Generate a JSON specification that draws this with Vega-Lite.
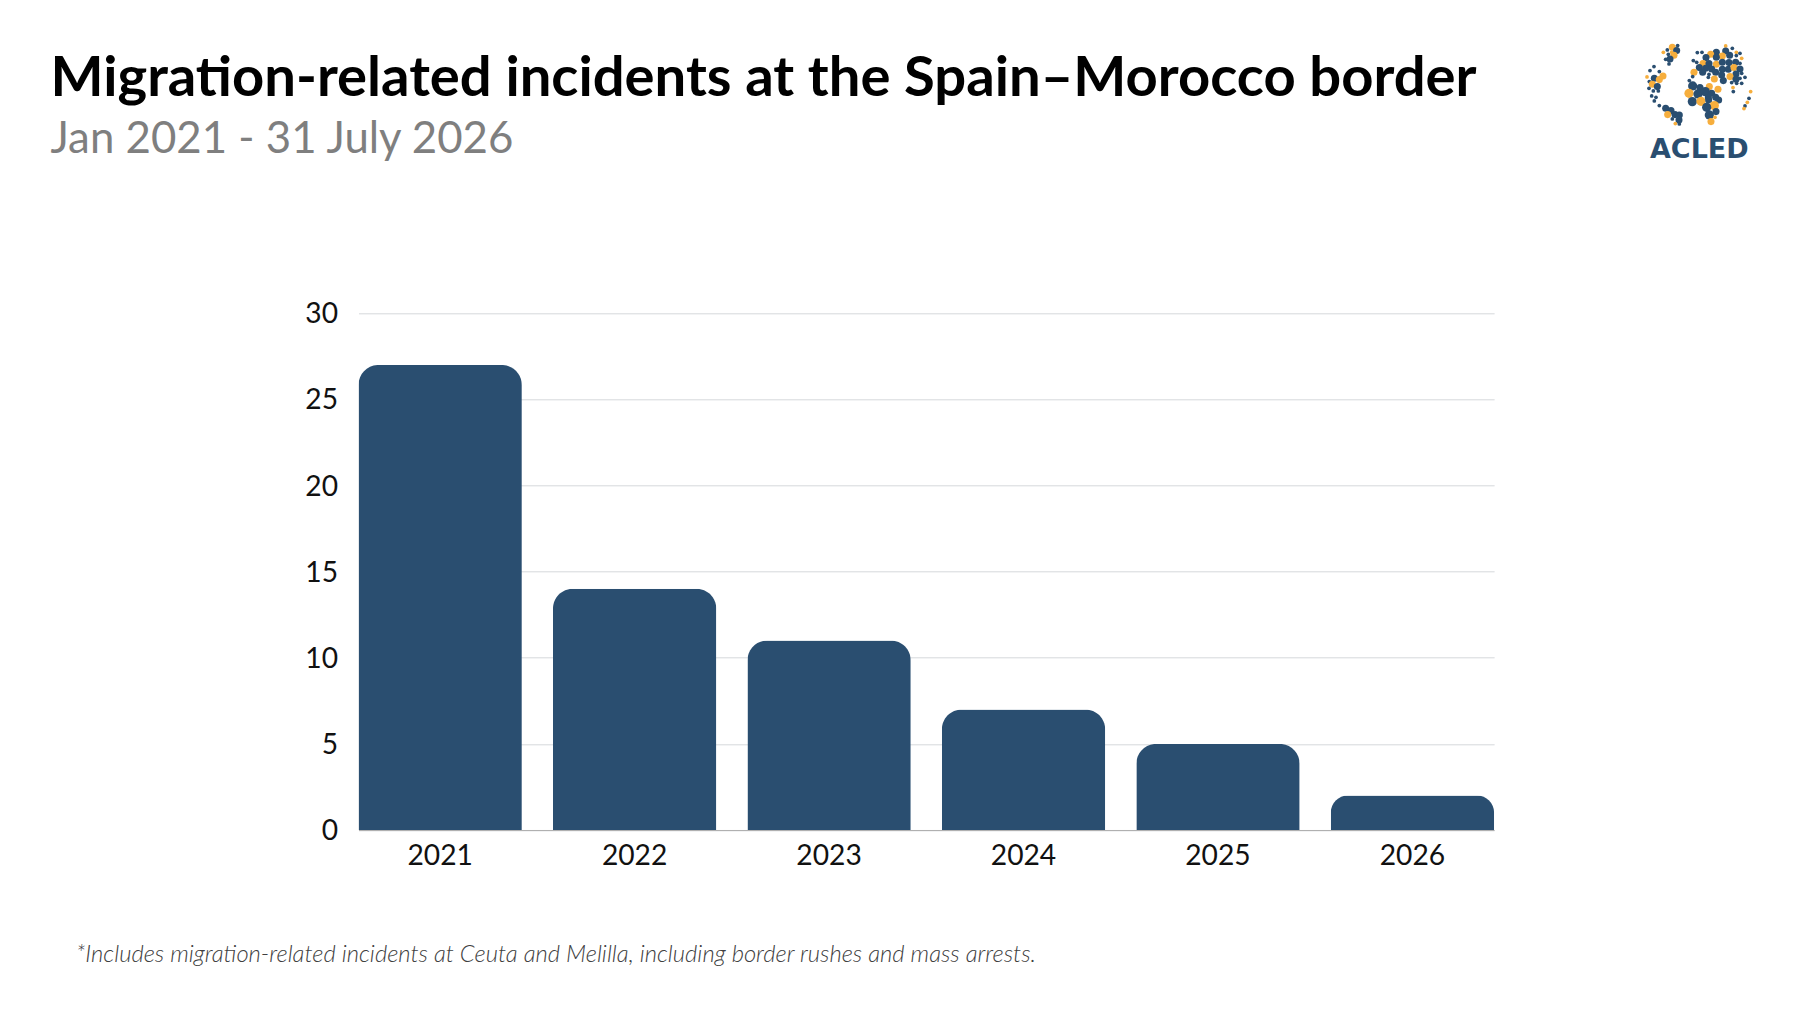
{"$schema":"https://vega.github.io/schema/vega-lite/v6.json","width":1135.6,"height":516.7,"autosize":{"type":"none"},"padding":{"left":358.5,"top":313.3,"right":306,"bottom":183},"background":"#ffffff","title":{"text":"Migration-related incidents at the Spain–Morocco border","subtitle":"Jan 2021 - 31 July 2026","anchor":"start","frame":"group","dx":-308,"offset":-119,"font":"Lato","fontSize":56.2,"fontWeight":"bold","color":"#000000","subtitleFont":"Lato","subtitleFontSize":43.8,"subtitleFontWeight":"normal","subtitleColor":"#7f7f7f","subtitlePadding":10},"datasets":{"bars":[{"year":"2021","incidents":27},{"year":"2022","incidents":14},{"year":"2023","incidents":11},{"year":"2024","incidents":7},{"year":"2025","incidents":5},{"year":"2026","incidents":2}],"logo":[{"gx":217,"gy":82,"group":"orange","w":2},{"gx":233,"gy":77,"group":"navy","w":1},{"gx":202,"gy":90,"group":"navy","w":1},{"gx":190,"gy":97,"group":"orange","w":1},{"gx":215,"gy":97,"group":"orange","w":1},{"gx":230,"gy":92,"group":"navy","w":2},{"gx":205,"gy":103,"group":"navy","w":1},{"gx":222,"gy":106,"group":"orange","w":2},{"gx":210,"gy":117,"group":"navy","w":2},{"gx":197,"gy":118,"group":"navy","w":1},{"gx":207,"gy":132,"group":"navy","w":1},{"gx":162,"gy":140,"group":"navy","w":1},{"gx":150,"gy":152,"group":"navy","w":1},{"gx":178,"gy":155,"group":"navy","w":1},{"gx":189,"gy":168,"group":"orange","w":2},{"gx":163,"gy":175,"group":"navy","w":2},{"gx":141,"gy":171,"group":"orange","w":1},{"gx":178,"gy":179,"group":"orange","w":2},{"gx":148,"gy":185,"group":"navy","w":1},{"gx":157,"gy":193,"group":"orange","w":2},{"gx":172,"gy":200,"group":"navy","w":2},{"gx":147,"gy":205,"group":"navy","w":1},{"gx":160,"gy":213,"group":"navy","w":1},{"gx":175,"gy":213,"group":"navy","w":1},{"gx":155,"gy":228,"group":"navy","w":1},{"gx":168,"gy":232,"group":"navy","w":1},{"gx":163,"gy":243,"group":"navy","w":1},{"gx":178,"gy":257,"group":"navy","w":1},{"gx":197,"gy":265,"group":"navy","w":2},{"gx":213,"gy":272,"group":"navy","w":2},{"gx":203,"gy":284,"group":"orange","w":2},{"gx":225,"gy":284,"group":"navy","w":2},{"gx":238,"gy":285,"group":"navy","w":2},{"gx":217,"gy":297,"group":"navy","w":1},{"gx":237,"gy":300,"group":"navy","w":2},{"gx":226,"gy":311,"group":"orange","w":1},{"gx":238,"gy":312,"group":"navy","w":1},{"gx":377,"gy":78,"group":"orange","w":1},{"gx":349,"gy":97,"group":"navy","w":2},{"gx":332,"gy":103,"group":"orange","w":2},{"gx":306,"gy":97,"group":"navy","w":1},{"gx":292,"gy":98,"group":"navy","w":1},{"gx":280,"gy":122,"group":"navy","w":1},{"gx":377,"gy":93,"group":"navy","w":2},{"gx":397,"gy":85,"group":"navy","w":1},{"gx":409,"gy":97,"group":"orange","w":1},{"gx":420,"gy":100,"group":"navy","w":1},{"gx":367,"gy":108,"group":"orange","w":2},{"gx":389,"gy":106,"group":"navy","w":2},{"gx":409,"gy":107,"group":"navy","w":1},{"gx":318,"gy":113,"group":"navy","w":2},{"gx":349,"gy":112,"group":"navy","w":2},{"gx":290,"gy":127,"group":"navy","w":1},{"gx":309,"gy":131,"group":"orange","w":2},{"gx":327,"gy":131,"group":"navy","w":2},{"gx":349,"gy":133,"group":"orange","w":2},{"gx":367,"gy":127,"group":"navy","w":2},{"gx":387,"gy":128,"group":"navy","w":2},{"gx":407,"gy":127,"group":"navy","w":2},{"gx":425,"gy":115,"group":"orange","w":1},{"gx":420,"gy":130,"group":"navy","w":1},{"gx":298,"gy":143,"group":"navy","w":2},{"gx":317,"gy":145,"group":"navy","w":2},{"gx":335,"gy":147,"group":"navy","w":2},{"gx":367,"gy":148,"group":"navy","w":2},{"gx":385,"gy":148,"group":"navy","w":2},{"gx":402,"gy":143,"group":"orange","w":2},{"gx":420,"gy":147,"group":"navy","w":2},{"gx":282,"gy":157,"group":"orange","w":2},{"gx":308,"gy":157,"group":"navy","w":2},{"gx":327,"gy":163,"group":"navy","w":1},{"gx":347,"gy":157,"group":"navy","w":2},{"gx":365,"gy":165,"group":"navy","w":2},{"gx":408,"gy":162,"group":"navy","w":2},{"gx":425,"gy":160,"group":"navy","w":1},{"gx":278,"gy":170,"group":"navy","w":1},{"gx":343,"gy":177,"group":"orange","w":2},{"gx":390,"gy":170,"group":"orange","w":2},{"gx":370,"gy":182,"group":"navy","w":2},{"gx":408,"gy":178,"group":"navy","w":2},{"gx":420,"gy":175,"group":"navy","w":1},{"gx":435,"gy":172,"group":"navy","w":1},{"gx":268,"gy":182,"group":"navy","w":1},{"gx":325,"gy":172,"group":"navy","w":1},{"gx":395,"gy":188,"group":"navy","w":1},{"gx":410,"gy":190,"group":"navy","w":1},{"gx":425,"gy":190,"group":"navy","w":1},{"gx":278,"gy":198,"group":"navy","w":3},{"gx":300,"gy":203,"group":"navy","w":2},{"gx":328,"gy":200,"group":"orange","w":2},{"gx":354,"gy":208,"group":"orange","w":2},{"gx":399,"gy":203,"group":"orange","w":1},{"gx":267,"gy":220,"group":"orange","w":3},{"gx":294,"gy":222,"group":"navy","w":3},{"gx":316,"gy":215,"group":"navy","w":3},{"gx":335,"gy":220,"group":"navy","w":2},{"gx":347,"gy":232,"group":"navy","w":2},{"gx":325,"gy":233,"group":"navy","w":2},{"gx":400,"gy":215,"group":"navy","w":1},{"gx":277,"gy":245,"group":"navy","w":3},{"gx":303,"gy":244,"group":"orange","w":3},{"gx":326,"gy":240,"group":"navy","w":2},{"gx":356,"gy":240,"group":"navy","w":2},{"gx":343,"gy":257,"group":"orange","w":3},{"gx":320,"gy":262,"group":"navy","w":3},{"gx":348,"gy":275,"group":"navy","w":2},{"gx":328,"gy":285,"group":"navy","w":3},{"gx":345,"gy":292,"group":"orange","w":1},{"gx":333,"gy":305,"group":"orange","w":2},{"gx":452,"gy":215,"group":"orange","w":1},{"gx":447,"gy":235,"group":"navy","w":1},{"gx":442,"gy":247,"group":"orange","w":1},{"gx":435,"gy":258,"group":"navy","w":1},{"gx":432,"gy":266,"group":"orange","w":1}]},"layer":[{"data":{"name":"bars"},"mark":{"type":"bar","color":"#2a4e70","cornerRadiusTopLeft":20,"cornerRadiusTopRight":20},"encoding":{"x":{"field":"year","type":"nominal","scale":{"paddingInner":0.16,"paddingOuter":0},"axis":{"title":"*Includes migration-related incidents at Ceuta and Melilla, including border rushes and mass arrests.","titleFont":"Lato","titleFontSize":23.8,"titleFontStyle":"italic","titleFontWeight":300,"titleColor":"#404040","titleAnchor":"start","titleAlign":"left","titleBaseline":"alphabetic","titleX":-283,"titleY":131.5,"labelFont":"Lato","labelFontSize":28.2,"labelColor":"#111111","labelAngle":0,"labelPadding":13,"ticks":false,"domainColor":"#b0b0b0","domainWidth":1,"grid":false}},"y":{"field":"incidents","type":"quantitative","scale":{"domain":[0,30]},"axis":{"title":null,"values":[0,5,10,15,20,25,30],"labelFont":"Lato","labelFontSize":28.2,"labelColor":"#111111","labelPadding":21,"labelOffset":1.5,"ticks":false,"domain":false,"gridColor":"#d5d8db","gridWidth":1}}}},{"data":{"name":"logo"},"mark":{"type":"point","filled":true,"opacity":1,"clip":false},"encoding":{"x":{"field":"gx","type":"quantitative","scale":{"domain":[-3724.5,-317.7]},"axis":null},"y":{"field":"gy","type":"quantitative","scale":{"domain":[2430,880]},"axis":null},"color":{"field":"group","type":"nominal","scale":{"domain":["navy","orange"],"range":["#2a4e70","#f6ae3d"]},"legend":null},"size":{"field":"w","type":"quantitative","scale":{"domain":[1,3],"range":[14,85],"zero":false},"legend":null}}},{"data":{"values":[{"gx":298,"gy":414,"name":"ACLED"}]},"mark":{"type":"text","font":"DejaVu Sans","fontSize":27,"fontWeight":"bold","color":"#2a4e70","align":"center","baseline":"alphabetic"},"encoding":{"x":{"field":"gx","type":"quantitative","scale":{"domain":[-3724.5,-317.7]},"axis":null},"y":{"field":"gy","type":"quantitative","scale":{"domain":[2430,880]},"axis":null},"text":{"field":"name"}}}],"resolve":{"scale":{"x":"independent","y":"independent","color":"independent","size":"independent"},"axis":{"x":"independent","y":"independent"}},"config":{"view":{"stroke":null}}}
